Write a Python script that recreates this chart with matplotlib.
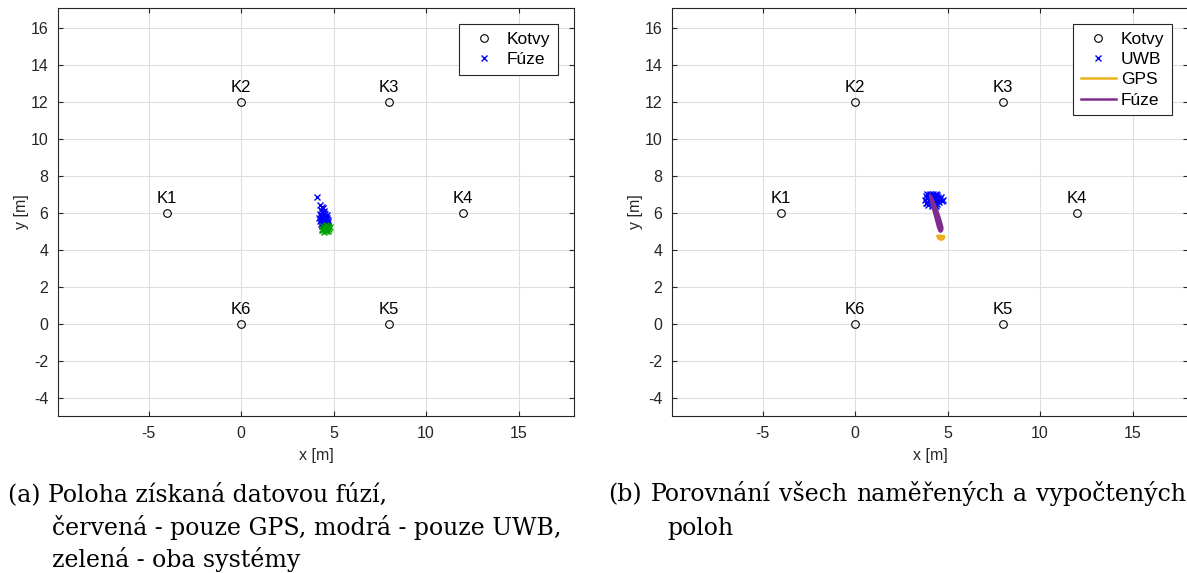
import matplotlib
matplotlib.use('Agg')
import matplotlib.pyplot as plt

plt.rcParams['font.family'] = ['Liberation Sans', 'DejaVu Sans']
plt.rcParams['axes.unicode_minus'] = False

# anchors
anchor_names = ['K1', 'K2', 'K3', 'K4', 'K5', 'K6']
anchor_x = [-4, 0, 8, 12, 8, 0]
anchor_y = [6, 12, 12, 6, 0, 0]

# (a) fusion result, blue = UWB only, green = both systems
fuse_uwb_x = [4.08, 4.25, 4.35, 4.45, 4.30, 4.50, 4.40, 4.55, 4.25, 4.30, 4.45, 4.60,
              4.35, 4.50, 4.65, 4.30, 4.40, 4.55, 4.70, 4.35, 4.45, 4.60, 4.30, 4.50,
              4.65, 4.40, 4.55, 4.35, 4.70, 4.28, 4.48, 4.62, 4.22, 4.68]
fuse_uwb_y = [6.88, 6.45, 6.30, 6.25, 6.15, 6.10, 6.05, 5.95, 5.95, 5.85, 5.85, 5.80,
              5.75, 5.70, 5.70, 5.65, 5.60, 5.60, 5.60, 5.50, 5.50, 5.50, 5.42, 5.40,
              5.42, 5.35, 5.32, 5.28, 5.30, 5.55, 6.00, 5.90, 5.70, 5.52]
fuse_both_x = [4.45, 4.60, 4.70, 4.50, 4.65, 4.40, 4.55, 4.75, 4.45, 4.60, 4.70, 4.50,
               4.65, 4.80, 4.38]
fuse_both_y = [5.30, 5.32, 5.28, 5.22, 5.18, 5.15, 5.12, 5.15, 5.05, 5.02, 5.00, 4.98,
               5.08, 5.22, 5.08]

# (b) all measured and computed positions
uwb_x = [3.90, 4.05, 4.20, 4.35, 4.45, 3.82, 4.00, 4.15, 4.30, 4.50, 3.90, 4.10,
         4.25, 4.40, 4.60, 4.75, 3.80, 4.00, 4.20, 4.35, 4.55, 3.90, 4.10, 4.30,
         3.95, 4.15, 4.45, 3.85, 4.05, 4.30, 4.62, 4.20, 4.40, 3.98, 4.68]
uwb_y = [7.00, 7.05, 7.00, 7.02, 6.95, 6.90, 6.90, 6.88, 6.90, 6.85, 6.80, 6.78,
         6.80, 6.75, 6.75, 6.70, 6.70, 6.65, 6.68, 6.62, 6.60, 6.55, 6.55, 6.50,
         6.42, 6.40, 6.50, 6.55, 6.75, 6.95, 6.85, 6.58, 6.40, 6.98, 6.62]
gps_x = [4.45, 4.60, 4.75, 4.80, 4.65, 4.50, 4.55, 4.70, 4.82, 4.60, 4.48]
gps_y = [4.75, 4.60, 4.62, 4.75, 4.70, 4.65, 4.58, 4.55, 4.68, 4.78, 4.70]
fusion_x = [4.05, 4.12, 4.22, 4.32, 4.40, 4.48, 4.55, 4.62, 4.66, 4.60, 4.52, 4.44,
            4.30, 4.15, 4.08, 4.20, 4.35, 4.50, 4.60, 4.70, 4.72, 4.64, 4.55, 4.45,
            4.30, 4.18]
fusion_y = [6.95, 6.60, 6.20, 5.85, 5.55, 5.25, 5.05, 4.98, 5.10, 5.35, 5.70, 6.00,
            6.40, 6.80, 6.90, 6.55, 6.10, 5.65, 5.30, 5.05, 5.20, 5.50, 5.80, 6.10,
            6.45, 6.75]

x_ticks = [-5, 0, 5, 10, 15]
y_ticks = [-4, -2, 0, 2, 4, 6, 8, 10, 12, 14, 16]

caption_a = ['(a) Poloha získaná datovou fúzí,',
             'červená - pouze GPS, modrá - pouze UWB,',
             'zelená - oba systémy']
caption_b = ['(b) Porovnání všech naměřených a vypočtených',
             'poloh']

W, H = 1187, 573
fig = plt.figure(figsize=(W / 100, H / 100), dpi=100)

dark = '#262626'


def setup_axes(ax):
    ax.set_xlim(-9.9, 18.0)
    ax.set_ylim(-5, 17.1)
    ax.set_xticks(x_ticks)
    ax.set_yticks(y_ticks)
    ax.grid(True, color='#dedede', linewidth=0.8)
    ax.set_axisbelow(True)
    ax.tick_params(direction='in', top=True, right=True, length=3.5, width=0.8,
                   color=dark, labelsize=11.5, labelcolor='#262626', pad=7)
    for s in ax.spines.values():
        s.set_color(dark)
        s.set_linewidth(0.8)
    ax.set_xlabel('x [m]', fontsize=11.5, color=dark, labelpad=5)
    ax.set_ylabel('y [m]', fontsize=11.5, color=dark, labelpad=1)
    for name, x, y in zip(anchor_names, anchor_x, anchor_y):
        ax.text(x, y + 0.55, name, ha='center', va='baseline', fontsize=12)


def setup_legend(ax):
    leg = ax.legend(loc='upper right', fontsize=12.5, frameon=True, fancybox=False,
                    edgecolor=dark, framealpha=1, handlelength=2.0,
                    borderaxespad=0.9, borderpad=0.45, labelspacing=0.3,
                    handletextpad=0.3)
    leg.get_frame().set_linewidth(0.8)


ax1 = fig.add_axes([58 / W, 1 - 416 / H, 516 / W, 408 / H])
setup_axes(ax1)
ax1.plot(anchor_x, anchor_y, 'ko', markerfacecolor='none', markersize=5.5,
         markeredgewidth=0.8, linestyle='none', label='Kotvy')
ax1.plot(fuse_uwb_x, fuse_uwb_y, 'x', color='blue', markersize=5,
         markeredgewidth=1, linestyle='none', label='Fúze')
ax1.plot(fuse_both_x, fuse_both_y, 'x', color='#00a000', markersize=5,
         markeredgewidth=1, linestyle='none')
setup_legend(ax1)

ax2 = fig.add_axes([672 / W, 1 - 416 / H, 516 / W, 408 / H])
setup_axes(ax2)
ax2.plot(anchor_x, anchor_y, 'ko', markerfacecolor='none', markersize=5.5,
         markeredgewidth=0.8, linestyle='none', label='Kotvy')
ax2.plot(uwb_x, uwb_y, 'x', color='blue', markersize=5,
         markeredgewidth=1, linestyle='none', label='UWB')
ax2.plot(gps_x, gps_y, '-', color='#EDB120', linewidth=1.8, label='GPS')
ax2.plot(fusion_x, fusion_y, '-', color='#7E2F8E', linewidth=1.8, label='Fúze')
setup_legend(ax2)

# captions - size the serif font so the long line of (a) fills its width
cap = dict(family=['DejaVu Serif'], va='baseline')
renderer = fig.canvas.get_renderer()
probe = fig.text(0, 0, caption_a[1], fontsize=13, **cap)
w13 = probe.get_window_extent(renderer).width
probe.remove()
cap['fontsize'] = 13 * (560 - 52) / w13

fig.text(8 / W, 1 - 501 / H, caption_a[0], **cap)
fig.text(52 / W, 1 - 535 / H, caption_a[1], **cap)
fig.text(52 / W, 1 - 567 / H, caption_a[2], **cap)

# first line of (b) is justified between x=608 and the right edge
words = caption_b[0].split(' ')
items = [fig.text(0, 1 - 501 / H, wd, **cap) for wd in words]
widths = [t.get_window_extent(renderer).width for t in items]
gap = (1186 - 608 - sum(widths)) / (len(words) - 1)
xpos = 608
for t, wd in zip(items, widths):
    t.set_x(xpos / W)
    xpos += wd + gap
fig.text(667 / W, 1 - 535 / H, caption_b[1], **cap)

fig.savefig('out.png', dpi=100)
